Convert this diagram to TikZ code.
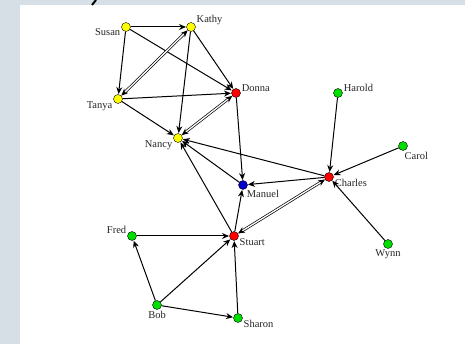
\documentclass[tikz,border=0pt]{standalone}
\usepackage{fontspec}
\setmainfont{Liberation Serif}
\usetikzlibrary{arrows.meta}
\definecolor{PanelClr}{RGB}{213,223,229}
\definecolor{YellowClr}{RGB}{255,255,0}
\definecolor{RedClr}{RGB}{255,0,0}
\definecolor{GreenClr}{RGB}{0,221,0}
\definecolor{BlueClr}{RGB}{0,0,204}

\begin{document}
\begin{tikzpicture}[x=1pt,y=-1pt,
  person/.style={circle,draw=black,line width=0.4pt,inner sep=0pt,minimum size=9pt,fill=#1},
  lbl/.style={font=\fontsize{10.5}{11}\selectfont,text=black!85,inner sep=1pt,label distance=0pt},
  link/.style={-{Stealth[length=7pt,width=6pt]},line width=1pt,shorten >=0.3pt},
  dlink/.style={{Stealth[length=7pt,width=6pt]}-{Stealth[length=7pt,width=6pt]},double,double distance=1.3pt,line width=0.7pt}]

\useasboundingbox (0,0) rectangle (465,344);
\fill[PanelClr] (0,0) rectangle (465,344);
\fill[white] (20,5) rectangle (465,344);
\draw[line width=2pt,line cap=butt] (92,5) -- (96,0);

\node[person=YellowClr,label={[lbl]190:Susan}] (Susan) at (126,27) {};
\node[person=YellowClr,label={[lbl]15:Kathy}] (Kathy) at (191,27) {};
\node[person=YellowClr,label={[lbl]195:Tanya}] (Tanya) at (118,99) {};
\node[person=RedClr,label={[lbl]5:Donna}] (Donna) at (236,93) {};
\node[person=GreenClr,label={[lbl]5:Harold}] (Harold) at (338,93) {};
\node[person=YellowClr,label={[lbl]195:Nancy}] (Nancy) at (178,138) {};
\node[person=GreenClr,label={[lbl]-85:Carol}] (Carol) at (403,146) {};
\node[person=RedClr,label={[lbl]-10:Charles}] (Charles) at (329,177) {};
\node[person=BlueClr,label={[lbl]-55:Manuel}] (Manuel) at (243,185) {};
\node[person=RedClr,label={[lbl]-15:Stuart}] (Stuart) at (234,236) {};
\node[person=GreenClr,label={[lbl]170:Fred}] (Fred) at (132,236) {};
\node[person=GreenClr,label={[lbl]below:Wynn}] (Wynn) at (388,244) {};
\node[person=GreenClr,label={[lbl]below:Bob}] (Bob) at (157,305) {};
\node[person=GreenClr,label={[lbl]-15:Sharon}] (Sharon) at (238,318) {};

\draw[link] (Susan) -- (Kathy);
\draw[link] (Susan) -- (Tanya);
\draw[link] (Susan) -- (Donna);
\draw[link] (Kathy) -- (Donna);
\draw[link] (Kathy) -- (Nancy);
\draw[link] (Tanya) -- (Donna);
\draw[link] (Tanya) -- (Nancy);
\draw[link] (Donna) -- (Manuel);
\draw[link] (Harold) -- (Charles);
\draw[link] (Carol) -- (Charles);
\draw[link] (Wynn) -- (Charles);
\draw[link] (Charles) -- (Nancy);
\draw[link] (Charles) -- (Manuel);
\draw[link] (Manuel) -- (Nancy);
\draw[link] (Stuart) -- (Nancy);
\draw[link] (Stuart) -- (Manuel);
\draw[link] (Fred) -- (Stuart);
\draw[link] (Bob) -- (Fred);
\draw[link] (Bob) -- (Stuart);
\draw[link] (Bob) -- (Sharon);
\draw[link] (Sharon) -- (Stuart);

\draw[dlink] (Kathy) -- (Tanya);
\draw[dlink] (Donna) -- (Nancy);
\draw[dlink] (Charles) -- (Stuart);

\end{tikzpicture}
\end{document}
